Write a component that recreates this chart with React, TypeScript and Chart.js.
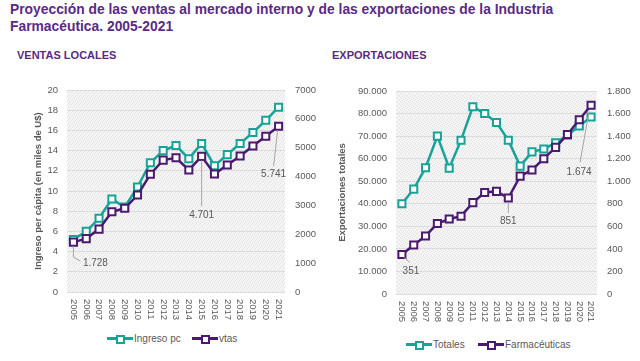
import React, { useEffect, useRef } from 'react';
import { Chart, registerables } from 'chart.js';

Chart.register(...registerables);

const years = ['2005', '2006', '2007', '2008', '2009', '2010', '2011', '2012', '2013', '2014', '2015', '2016', '2017', '2018', '2019', '2020', '2021'];
const ingresoPc = [5.2, 6.0, 7.3, 9.2, 8.4, 10.4, 12.8, 14.0, 14.5, 13.2, 14.7, 12.5, 13.6, 14.7, 15.8, 17.0, 18.3];
const vtas = [1728, 1850, 2180, 2780, 2900, 3360, 4080, 4570, 4650, 4230, 4701, 4090, 4400, 4710, 5060, 5400, 5741];
const totales = [40000, 46500, 56000, 70000, 55800, 68200, 83000, 80000, 76000, 68200, 56700, 63000, 64300, 67000, 70400, 74500, 78500];
const farmaceuticas = [351, 435, 515, 625, 665, 690, 810, 900, 910, 851, 1045, 1100, 1200, 1300, 1415, 1545, 1674];

const leftTicks = { min: 0, max: 20, step: 2 };
const rightTicks = { min: 0, max: 7000, step: 1000 };
const expTicks = { min: 0, max: 90000, step: 10000 };
const farmTicks = { min: 0, max: 1800, step: 200 };

const TEAL = '#17a398';
const PURPLE = '#4b1a70';
const TITLE = '#5a2a86';
const GRAY = '#595959';
const FONT = '"Liberation Sans", Arial, sans-serif';

const fmt = (v: number) => String(Math.round(v)).replace(/\B(?=(\d{3})+(?!\d))/g, '.');

type Ann = { ds: number; idx: number; path: number[][]; text: number[] };

function makePlugin(axisTitle: string, titleOffset: number, anns: Ann[]) {
  let pattern: CanvasPattern | null = null;
  return {
    id: 'custom',
    beforeDraw(chart: any) {
      const { ctx, chartArea: a } = chart;
      if (!pattern) {
        const pc = document.createElement('canvas');
        pc.width = 4;
        pc.height = 4;
        const p = pc.getContext('2d')!;
        p.fillStyle = '#f5f5f5';
        p.fillRect(0, 0, 4, 4);
        p.fillStyle = '#e2e2e2';
        p.fillRect(0, 0, 1, 1);
        p.fillRect(2, 1, 1, 1);
        p.fillRect(1, 2, 1, 1);
        p.fillRect(3, 3, 1, 1);
        pattern = ctx.createPattern(pc, 'repeat');
      }
      ctx.save();
      ctx.fillStyle = pattern as any;
      ctx.fillRect(a.left, a.top, a.right - a.left, a.bottom - a.top);
      ctx.restore();
    },
    afterDatasetsDraw(chart: any) {
      const { ctx } = chart;
      ctx.save();
      anns.forEach((an) => {
        const meta = chart.getDatasetMeta(an.ds);
        const pt = meta.data[an.idx];
        const x = pt.x;
        const y = pt.y;
        ctx.strokeStyle = '#a6a6a6';
        ctx.lineWidth = 1;
        ctx.beginPath();
        an.path.forEach((p, i) => {
          if (i === 0) ctx.moveTo(x + p[0], y + p[1]);
          else ctx.lineTo(x + p[0], y + p[1]);
        });
        ctx.stroke();
        const v = chart.data.datasets[an.ds].data[an.idx];
        ctx.fillStyle = GRAY;
        ctx.font = `10px ${FONT}`;
        ctx.textAlign = 'center';
        ctx.textBaseline = 'middle';
        ctx.fillText(fmt(v), x + an.text[0], y + an.text[1]);
      });
      ctx.restore();
    },
    afterDraw(chart: any) {
      const { ctx, chartArea: a } = chart;
      const xs = chart.scales.x;
      ctx.save();
      ctx.fillStyle = GRAY;
      ctx.font = `9.5px ${FONT}`;
      ctx.textAlign = 'left';
      ctx.textBaseline = 'middle';
      chart.data.labels.forEach((lab: string, i: number) => {
        const px = xs.getPixelForValue(i);
        ctx.save();
        ctx.translate(px, a.bottom + 7);
        ctx.rotate(Math.PI / 2);
        ctx.fillText(lab, 0, 0);
        ctx.restore();
      });
      ctx.font = `bold 9.5px ${FONT}`;
      ctx.textAlign = 'center';
      ctx.translate(a.left - titleOffset, (a.top + a.bottom) / 2);
      ctx.rotate(-Math.PI / 2);
      ctx.fillText(axisTitle, 0, 0);
      ctx.restore();
    },
  };
}

function lineDs(label: string, data: number[], color: string, axis: string, order: number) {
  return {
    label,
    data,
    yAxisID: axis,
    order,
    borderColor: color,
    borderWidth: 2.5,
    pointStyle: 'rect',
    pointRadius: 5,
    pointHoverRadius: 5,
    pointBorderWidth: 2,
    pointBorderColor: color,
    pointBackgroundColor: '#ffffff',
    tension: 0,
    fill: false,
  };
}

function makeConfig(
  d1: any,
  d2: any,
  t1: { min: number; max: number; step: number },
  t2: { min: number; max: number; step: number },
  f1: (v: number) => string,
  f2: (v: number) => string,
  w1: number,
  w2: number,
  top: number,
  xh: number,
  plugin: any
) {
  const tickFont = { family: FONT, size: 9.5 };
  return {
    type: 'line',
    data: { labels: years, datasets: [d1, d2] },
    options: {
      animation: false,
      responsive: false,
      devicePixelRatio: 1,
      layout: { padding: { top, left: 0, right: 0, bottom: 0 } },
      plugins: { legend: { display: false }, tooltip: { enabled: false } },
      scales: {
        x: {
          offset: true,
          grid: { display: false },
          border: { display: false },
          ticks: { display: false },
          afterFit: (s: any) => {
            s.height = xh;
          },
        },
        y: {
          position: 'left',
          min: t1.min,
          max: t1.max,
          grid: { color: '#dcdcdc', drawTicks: false, lineWidth: 1 },
          border: { display: false },
          ticks: { stepSize: t1.step, color: GRAY, font: tickFont, padding: 9, callback: (v: any) => f1(Number(v)) },
          afterFit: (s: any) => {
            s.width = w1;
          },
        },
        y1: {
          position: 'right',
          min: t2.min,
          max: t2.max,
          grid: { display: false, drawTicks: false },
          border: { display: false },
          ticks: { stepSize: t2.step, color: GRAY, font: tickFont, padding: 10, callback: (v: any) => f2(Number(v)) },
          afterFit: (s: any) => {
            s.width = w2;
          },
        },
      },
    },
    plugins: [plugin],
  };
}

const leftAnns: Ann[] = [
  { ds: 1, idx: 0, path: [[0, 4], [0, 15], [7, 19]], text: [22, 21] },
  { ds: 1, idx: 10, path: [[0, 4], [0, 50]], text: [0, 59] },
  { ds: 1, idx: 16, path: [[-1, 4], [-5, 40]], text: [-5, 48] },
];
const rightAnns: Ann[] = [
  { ds: 1, idx: 0, path: [[2, 3], [8, 8]], text: [9, 17] },
  { ds: 1, idx: 9, path: [[0, 4], [0, 15]], text: [0, 23] },
  { ds: 1, idx: 16, path: [[-2, 6], [-11, 57]], text: [-12, 67] },
];

function LegendItem({ x, y, color, label }: { x: number; y: number; color: string; label: string }) {
  return (
    <div style={{ position: 'absolute', left: x, top: y - 8, height: 16, display: 'flex', alignItems: 'center' }}>
      <div style={{ position: 'relative', width: 26, height: 16 }}>
        <div style={{ position: 'absolute', left: 0, top: 6.5, width: 26, height: 3, background: color }} />
        <div
          style={{
            position: 'absolute',
            left: 9,
            top: 4.5,
            width: 5,
            height: 5,
            background: '#fff',
            border: `2px solid ${color}`,
          }}
        />
      </div>
      <span style={{ fontFamily: FONT, fontSize: 10, color: GRAY, marginLeft: 1, whiteSpace: 'nowrap' }}>{label}</span>
    </div>
  );
}

export default function App() {
  const c1 = useRef<HTMLCanvasElement>(null);
  const c2 = useRef<HTMLCanvasElement>(null);

  useEffect(() => {
    const plain = (v: number) => String(v);
    const ch1 = new Chart(
      c1.current as HTMLCanvasElement,
      makeConfig(
        lineDs('Ingreso pc', ingresoPc, TEAL, 'y', 1),
        lineDs('vtas', vtas, PURPLE, 'y1', 0),
        leftTicks,
        rightTicks,
        plain,
        plain,
        57,
        35,
        20,
        38,
        makePlugin('Ingreso per cápita (en miles de U$)', 29, leftAnns)
      ) as any
    );
    const ch2 = new Chart(
      c2.current as HTMLCanvasElement,
      makeConfig(
        lineDs('Totales', totales, TEAL, 'y', 1),
        lineDs('Farmacéuticas', farmaceuticas, PURPLE, 'y1', 0),
        expTicks,
        farmTicks,
        fmt,
        fmt,
        71,
        38,
        21,
        36,
        makePlugin('Exportaciones totales', 54, rightAnns)
      ) as any
    );
    return () => {
      ch1.destroy();
      ch2.destroy();
    };
  }, []);

  return (
    <div style={{ position: 'absolute', left: 0, top: 0, width: 640, height: 361, background: '#fff', overflow: 'hidden' }}>
      <div
        style={{
          position: 'absolute',
          left: 10,
          top: 1,
          width: 630,
          fontFamily: FONT,
          fontWeight: 'bold',
          fontSize: 13.85,
          lineHeight: '17px',
          color: TITLE,
        }}
      >
        Proyección de las ventas al mercado interno y de las exportaciones de la Industria
        <br />
        Farmacéutica. 2005-2021
      </div>
      <div style={{ position: 'absolute', left: 17, top: 49, fontFamily: FONT, fontWeight: 'bold', fontSize: 11, color: TITLE }}>
        VENTAS LOCALES
      </div>
      <div style={{ position: 'absolute', left: 332, top: 49, fontFamily: FONT, fontWeight: 'bold', fontSize: 11, color: TITLE }}>
        EXPORTACIONES
      </div>
      <canvas ref={c1} width={310} height={260} style={{ position: 'absolute', left: 10, top: 70, width: 310, height: 260 }} />
      <canvas ref={c2} width={310} height={260} style={{ position: 'absolute', left: 325, top: 70, width: 310, height: 260 }} />
      <LegendItem x={107} y={338} color={TEAL} label="Ingreso pc" />
      <LegendItem x={192} y={338} color={PURPLE} label="vtas" />
      <LegendItem x={406} y={344} color={TEAL} label="Totales" />
      <LegendItem x={478} y={344} color={PURPLE} label="Farmacéuticas" />
    </div>
  );
}
